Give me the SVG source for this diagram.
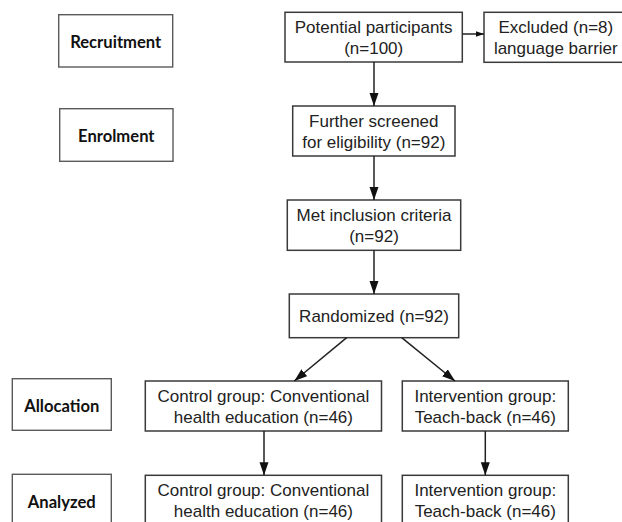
<svg xmlns="http://www.w3.org/2000/svg" width="622" height="522" viewBox="0 0 622 522">
<defs>
<style>
.stage rect{fill:#fff;stroke:#5a5a5a;stroke-width:1.4}
.stage text{font-family:Lato,"Open Sans","Liberation Sans",sans-serif;font-weight:700;font-size:16.6px;fill:#111;text-anchor:middle}
.node rect{fill:#fff;stroke:#3a3a3a;stroke-width:1.5}
.node text{font-family:"Liberation Sans",Arial,sans-serif;font-size:17px;fill:#222;text-anchor:middle}
.edges line{stroke:#222;stroke-width:1.5;fill:none}
</style>
<marker id="ah" markerUnits="userSpaceOnUse" markerWidth="13" markerHeight="10" refX="13" refY="4.5" orient="auto"><path d="M0,0 L13,4.5 L0,9 z" fill="#111"/></marker>
<marker id="ahs" markerUnits="userSpaceOnUse" markerWidth="9" markerHeight="7" refX="8.5" refY="3" orient="auto"><path d="M0,0 L8.5,3 L0,6 z" fill="#111"/></marker>
</defs>
<rect width="622" height="522" fill="#fff"/>
<g id="stage-recruitment" class="stage"><rect x="58.7" y="14.7" width="114" height="52.3"/><text x="115.7" y="48">Recruitment</text></g>
<g id="stage-enrolment" class="stage"><rect x="59.7" y="108.7" width="113.3" height="52.6"/><text x="116.3" y="142">Enrolment</text></g>
<g id="stage-allocation" class="stage"><rect x="12.3" y="378.7" width="99" height="51.6"/><text x="61.8" y="412">Allocation</text></g>
<g id="stage-analyzed" class="stage"><rect x="12.3" y="474.3" width="99" height="52"/><text x="61.8" y="508">Analyzed</text></g>
<g id="potential" class="node"><rect x="285" y="12.3" width="177.3" height="49.7"/><text x="373.7" y="33">Potential participants</text><text x="373.7" y="54">(n=100)</text></g>
<g id="excluded" class="node"><rect x="484" y="12.3" width="143.5" height="50"/><text x="555.8" y="33">Excluded (n=8)</text><text x="555.8" y="54">language barrier</text></g>
<g id="screened" class="node"><rect x="292.7" y="106" width="162.3" height="50"/><text x="373.8" y="127">Further screened</text><text x="373.8" y="148">for eligibility (n=92)</text></g>
<g id="met" class="node"><rect x="287.3" y="200" width="173.4" height="50.3"/><text x="374" y="221">Met inclusion criteria</text><text x="374" y="242">(n=92)</text></g>
<g id="randomized" class="node"><rect x="289.3" y="294" width="169.4" height="43.7"/><text x="374" y="322">Randomized (n=92)</text></g>
<g id="control-alloc" class="node"><rect x="145.3" y="381" width="236.2" height="50"/><text x="263.4" y="402">Control group: Conventional</text><text x="263.4" y="423">health education (n=46)</text></g>
<g id="intervention-alloc" class="node"><rect x="402.3" y="381" width="166" height="50"/><text x="485.3" y="402">Intervention group:</text><text x="485.3" y="423">Teach-back (n=46)</text></g>
<g id="control-analyzed" class="node"><rect x="145.3" y="475.3" width="236.2" height="50"/><text x="263.4" y="496">Control group: Conventional</text><text x="263.4" y="517">health education (n=46)</text></g>
<g id="intervention-analyzed" class="node"><rect x="402.3" y="475.3" width="166" height="50"/><text x="485.3" y="496">Intervention group:</text><text x="485.3" y="517">Teach-back (n=46)</text></g>
<g id="connectors" class="edges">
<line x1="462.3" y1="34" x2="484" y2="34" marker-end="url(#ahs)"/>
<line x1="374" y1="62" x2="374" y2="106" marker-end="url(#ah)"/>
<line x1="374" y1="156" x2="374" y2="200" marker-end="url(#ah)"/>
<line x1="374" y1="250.3" x2="374" y2="294" marker-end="url(#ah)"/>
<line x1="346.7" y1="337.7" x2="294.3" y2="381" marker-end="url(#ah)"/>
<line x1="401.7" y1="337.7" x2="455" y2="381" marker-end="url(#ah)"/>
<line x1="264" y1="431" x2="264" y2="475.3" marker-end="url(#ah)"/>
<line x1="485.3" y1="431" x2="485.3" y2="475.3" marker-end="url(#ah)"/>
</g>
</svg>
